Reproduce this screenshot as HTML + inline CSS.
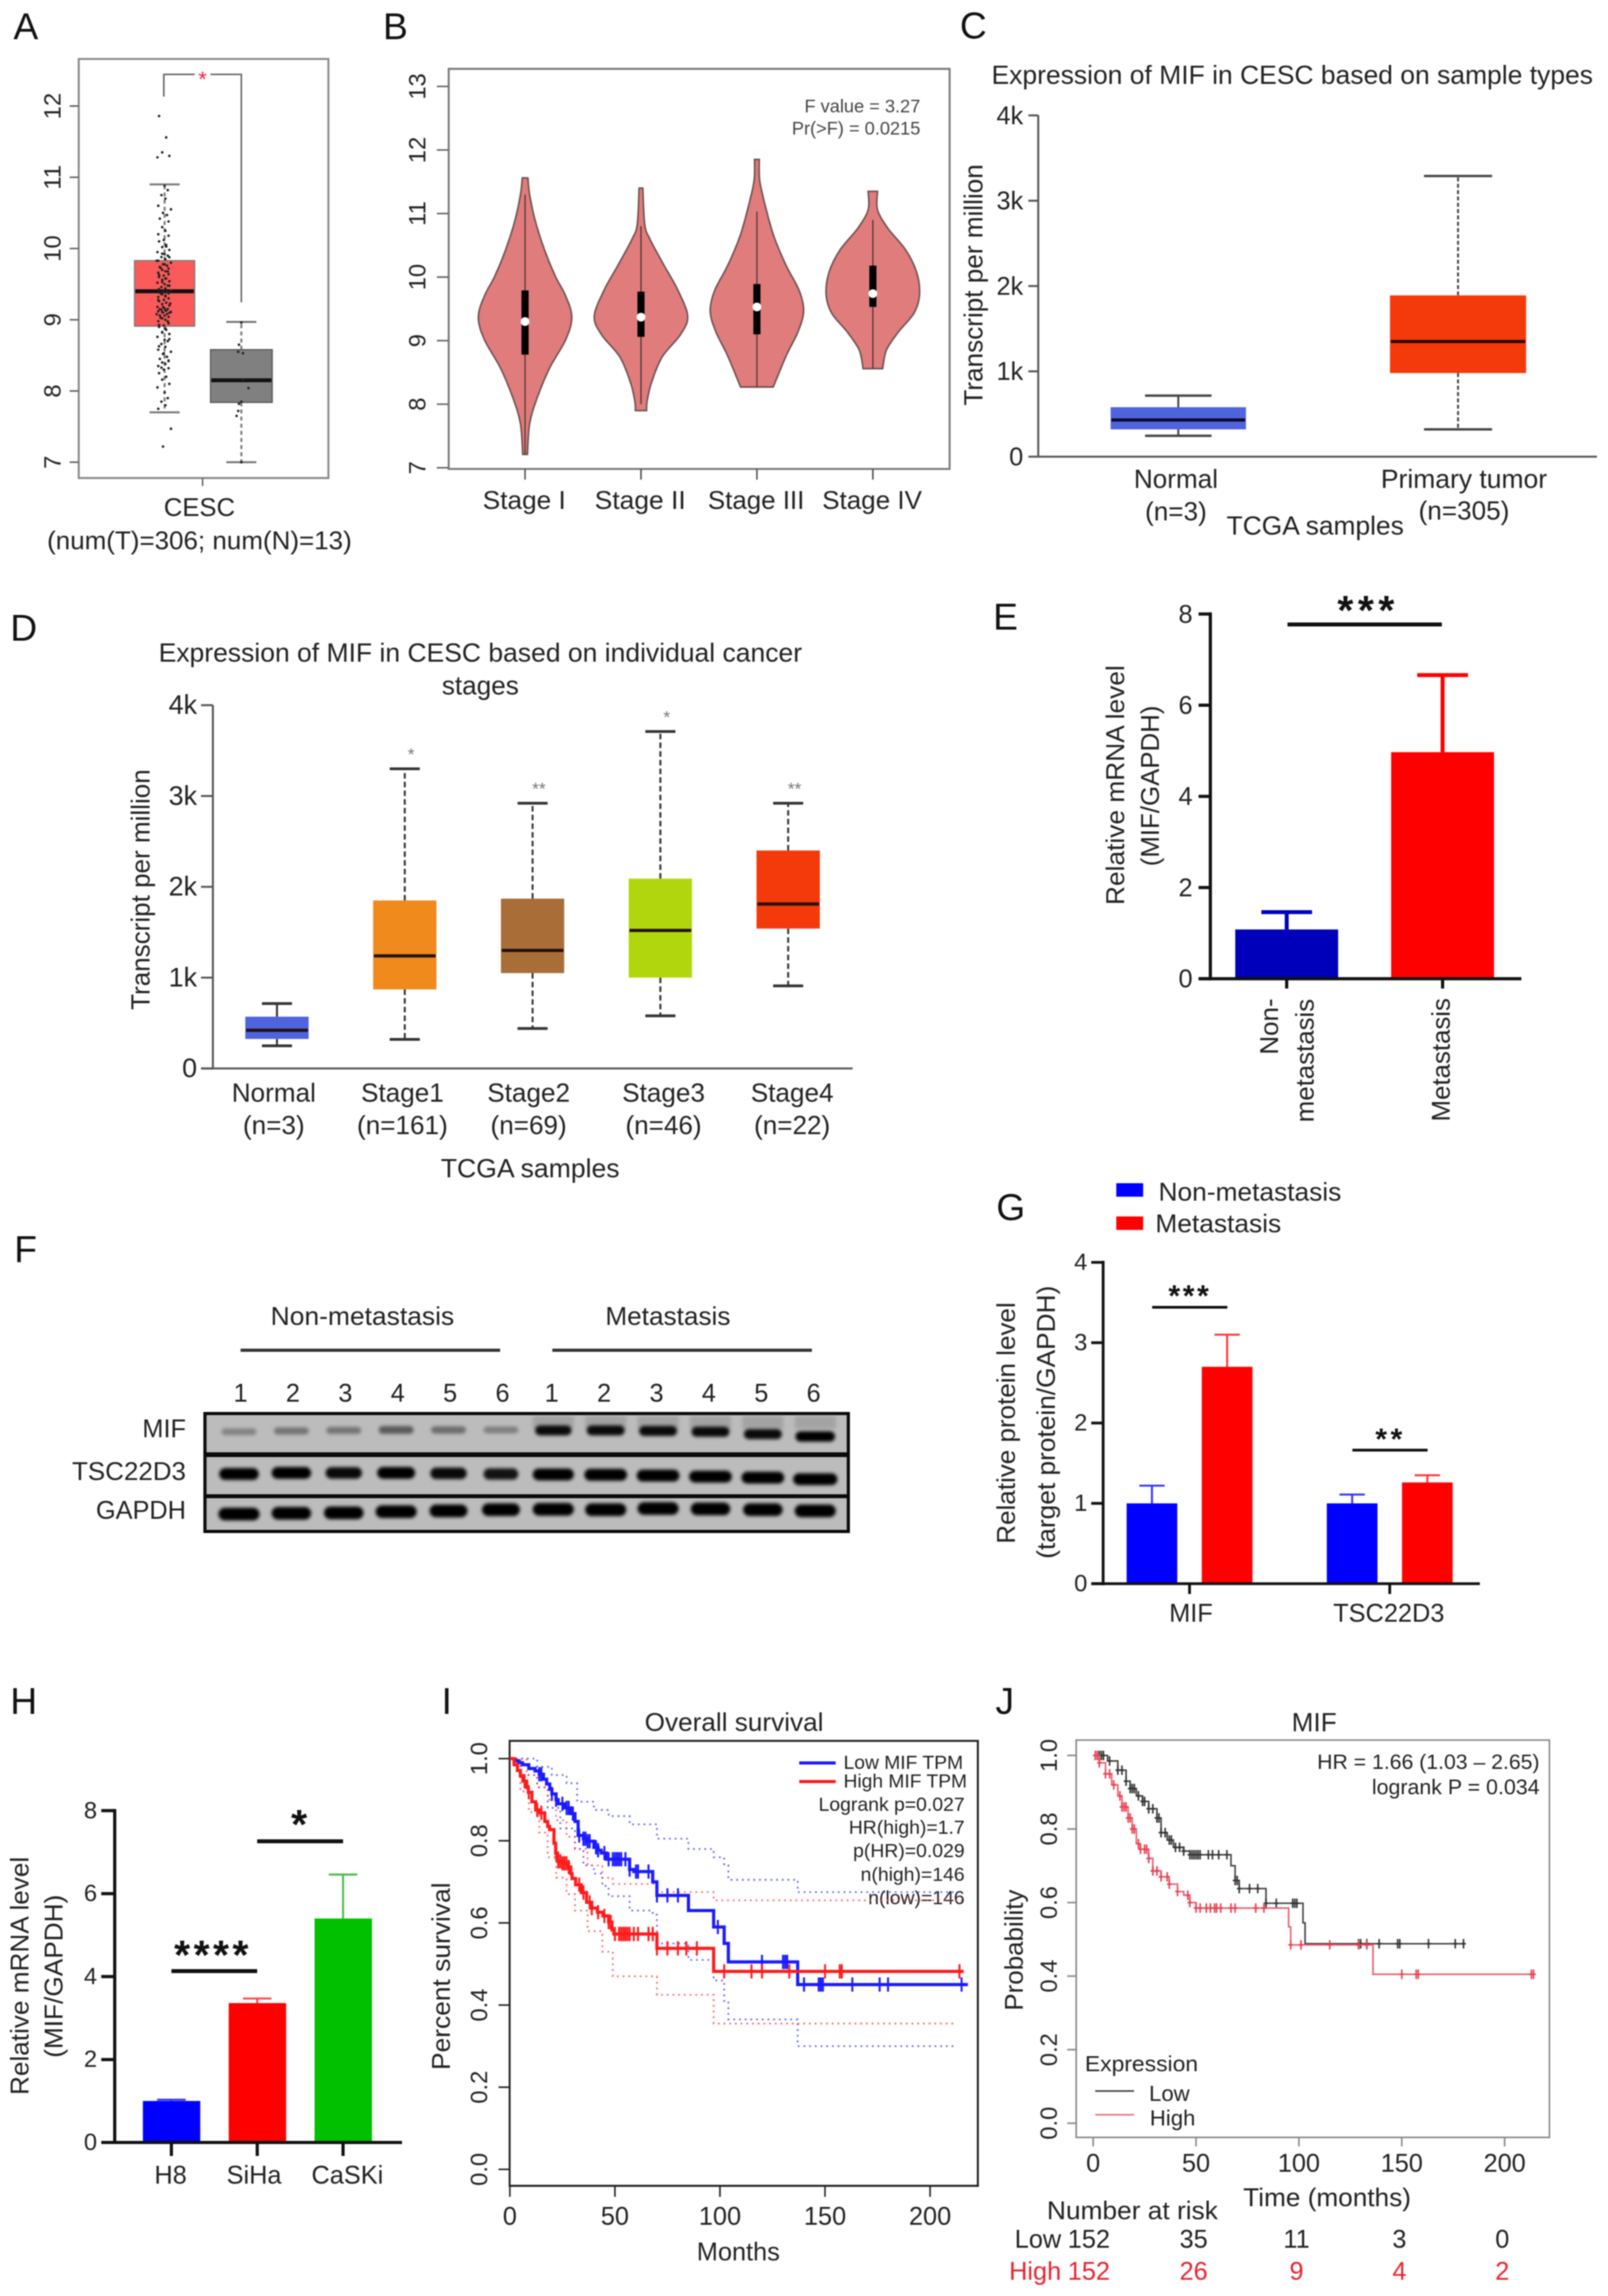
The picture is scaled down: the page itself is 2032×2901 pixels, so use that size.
<!DOCTYPE html>
<html lang="en">
<head>
<meta charset="utf-8">
<title>MIF expression in CESC - multi-panel figure</title>
<style>
html,body{margin:0;padding:0;background:#fff;}
#figure{display:block;filter:blur(0.8px);}
#figure text{font-family:"Liberation Sans",sans-serif;fill:#222;dominant-baseline:central;text-anchor:middle;}
#figure text.end{text-anchor:end;}
#figure text.start{text-anchor:start;}
#figure text.plabel{font-size:47px;fill:#111;text-anchor:start;}
#figure text.red{fill:#e8232f;}
#figure text.star{font-weight:bold;fill:#111;}
</style>
</head>
<body>
<svg id="figure" xmlns="http://www.w3.org/2000/svg" width="2032" height="2901" viewBox="0 0 2032 2901">
<defs>
<filter id="bandBlur" x="-30%" y="-100%" width="160%" height="300%"><feGaussianBlur stdDeviation="2.2"/></filter>
</defs>
<rect x="0" y="0" width="2032" height="2901" fill="#fff"/>

<g id="panel-a">
<text class="plabel" x="17" y="33">A</text>
<rect x="99.5" y="74.5" width="315.5" height="529.5" fill="none" stroke="#888" stroke-width="2.5"/>
<text x="252" y="641" font-size="32" textLength="90" lengthAdjust="spacingAndGlyphs">CESC</text>
<text x="252" y="683" font-size="32" textLength="385" lengthAdjust="spacingAndGlyphs">(num(T)=306; num(N)=13)</text>
<path d="M207 122V94H305V382" fill="none" stroke="#666" stroke-width="2"/>
<rect x="246" y="84" width="20" height="20" fill="#fff"/>
<text x="256" y="100" font-size="28" style="fill:#f0233c">*</text>
</g>

<g id="panel-b">
<text class="plabel" x="484" y="33">B</text>
<rect x="567" y="87" width="633" height="505.5" fill="none" stroke="#777" stroke-width="2.5"/>
<text class="end" x="1163" y="134" font-size="23" style="fill:#444">F value = 3.27</text>
<text class="end" x="1163" y="162" font-size="23" style="fill:#444">Pr(&gt;F) = 0.0215</text>
</g>

<g id="panel-c">
<text class="plabel" x="1213" y="32">C</text>
<text x="1633" y="94.5" font-size="33" textLength="760" lengthAdjust="spacingAndGlyphs">Expression of MIF in CESC based on sample types</text>
<text x="1230" y="360" font-size="33" textLength="305" lengthAdjust="spacingAndGlyphs" transform="rotate(-90 1230 360)">Transcript per million</text>
<text x="1486" y="605" font-size="33">Normal</text>
<text x="1486" y="646" font-size="33">(n=3)</text>
<text x="1850" y="605" font-size="33" textLength="210" lengthAdjust="spacingAndGlyphs">Primary tumor</text>
<text x="1850" y="645" font-size="33">(n=305)</text>
<text x="1662" y="664" font-size="33" textLength="224" lengthAdjust="spacingAndGlyphs">TCGA samples</text>
</g>

<g id="panel-d">
<text class="plabel" x="13" y="793">D</text>
<text x="607" y="824.5" font-size="33" textLength="813" lengthAdjust="spacingAndGlyphs">Expression of MIF in CESC based on individual cancer</text>
<text x="607" y="866" font-size="33">stages</text>
<text x="177.5" y="1124" font-size="33" textLength="304" lengthAdjust="spacingAndGlyphs" transform="rotate(-90 177.5 1124)">Transcript per million</text>
<text x="670" y="1476" font-size="33" textLength="226" lengthAdjust="spacingAndGlyphs">TCGA samples</text>
</g>

<g id="panel-e">
<text class="plabel" x="1255" y="779">E</text>
<text x="1409.5" y="992" font-size="32" textLength="303" lengthAdjust="spacingAndGlyphs" transform="rotate(-90 1409.5 992)">Relative mRNA level</text>
<text x="1453.6" y="993" font-size="32" textLength="203" lengthAdjust="spacingAndGlyphs" transform="rotate(-90 1453.6 993)">(MIF/GAPDH)</text>
<text x="1604" y="1297" font-size="32" textLength="71" lengthAdjust="spacingAndGlyphs" transform="rotate(-90 1604 1297)">Non-</text>
<text x="1649" y="1340" font-size="32" textLength="156" lengthAdjust="spacingAndGlyphs" transform="rotate(-90 1649 1340)">metastasis</text>
<text x="1821" y="1339" font-size="32" textLength="156" lengthAdjust="spacingAndGlyphs" transform="rotate(-90 1821 1339)">Metastasis</text>
<rect x="1627" y="786.5" width="195" height="5" fill="#111"/>
<text class="star" x="1726" y="772" font-size="52" textLength="72">***</text>
</g>

<g id="panel-f">
<text class="plabel" x="18" y="1578">F</text>
<text x="458" y="1663" font-size="32" textLength="232" lengthAdjust="spacingAndGlyphs">Non-metastasis</text>
<text x="844" y="1663" font-size="32" textLength="158" lengthAdjust="spacingAndGlyphs">Metastasis</text>
<rect x="304" y="1704" width="328" height="4" fill="#333"/>
<rect x="698" y="1704" width="328" height="4" fill="#333"/>
<text class="end" x="235" y="1805" font-size="32">MIF</text>
<text class="end" x="235" y="1859" font-size="32" textLength="144" lengthAdjust="spacingAndGlyphs">TSC22D3</text>
<text class="end" x="235" y="1908" font-size="32">GAPDH</text>
<rect x="257" y="1784" width="817" height="153" fill="#0a0a0a"/>
<rect x="261" y="1788" width="809" height="47" fill="#bcbcbc"/>
<rect x="261" y="1841" width="809" height="47" fill="#bcbcbc"/>
<rect x="261" y="1893" width="809" height="40" fill="#bcbcbc"/>
</g>

<g id="panel-g">
<text class="plabel" x="1259" y="1525">G</text>
<rect x="1410.6" y="1495" width="34" height="17" fill="#0000ff"/>
<text class="start" x="1464" y="1506" font-size="32" textLength="231" lengthAdjust="spacingAndGlyphs">Non-metastasis</text>
<rect x="1410.6" y="1537" width="34" height="17" fill="#ff0000"/>
<text class="start" x="1460" y="1546" font-size="32" textLength="159" lengthAdjust="spacingAndGlyphs">Metastasis</text>
<text x="1271.6" y="1798" font-size="32" textLength="305" lengthAdjust="spacingAndGlyphs" transform="rotate(-90 1271.6 1798)">Relative protein level</text>
<text x="1322" y="1797" font-size="32" textLength="345" lengthAdjust="spacingAndGlyphs" transform="rotate(-90 1322 1797)">(target protein/GAPDH)</text>
<text x="1505" y="2038" font-size="32">MIF</text>
<text x="1755" y="2038" font-size="32">TSC22D3</text>
<rect x="1456" y="1650" width="95" height="3.5" fill="#111"/>
<text class="star" x="1502" y="1638" font-size="38" textLength="51">***</text>
<rect x="1709" y="1830.5" width="95" height="3.5" fill="#111"/>
<text class="star" x="1755" y="1819" font-size="38" textLength="34">**</text>
</g>

<g id="panel-h">
<text class="plabel" x="13" y="2149">H</text>
<text x="25" y="2496.5" font-size="32" textLength="301" lengthAdjust="spacingAndGlyphs" transform="rotate(-90 25 2496.5)">Relative mRNA level</text>
<text x="68" y="2497" font-size="32" textLength="206" lengthAdjust="spacingAndGlyphs" transform="rotate(-90 68 2497)">(MIF/GAPDH)</text>
<rect x="216.6" y="2488" width="108.4" height="5" fill="#111"/>
<text class="star" x="267" y="2471" font-size="52" textLength="94">****</text>
<rect x="325" y="2324" width="108.5" height="5" fill="#111"/>
<text class="star" x="378" y="2306" font-size="52">*</text>
</g>

<g id="panel-i">
<text class="plabel" x="558" y="2149">I</text>
<text x="927.6" y="2176" font-size="32" textLength="226" lengthAdjust="spacingAndGlyphs">Overall survival</text>
<rect x="644" y="2199.6" width="591.7" height="562.2" fill="none" stroke="#222" stroke-width="2.5"/>
<text x="557.5" y="2497" font-size="32" textLength="237" lengthAdjust="spacingAndGlyphs" transform="rotate(-90 557.5 2497)">Percent survival</text>
<text x="933" y="2845" font-size="32">Months</text>
<rect x="1010" y="2225.5" width="46" height="4" fill="#1a1aff"/>
<text class="start" x="1066" y="2227.5" font-size="24" textLength="151" lengthAdjust="spacingAndGlyphs">Low MIF TPM</text>
<rect x="1010" y="2249" width="46" height="4" fill="#ff1a1a"/>
<text class="start" x="1066" y="2251" font-size="24" textLength="156" lengthAdjust="spacingAndGlyphs">High MIF TPM</text>
<text class="end" x="1219" y="2280.7" font-size="24.5">Logrank p=0.027</text>
<text class="end" x="1219" y="2309.6" font-size="24.5">HR(high)=1.7</text>
<text class="end" x="1219" y="2339" font-size="24.5">p(HR)=0.029</text>
<text class="end" x="1219" y="2369" font-size="24.5">n(high)=146</text>
<text class="end" x="1219" y="2398.6" font-size="24.5">n(low)=146</text>
</g>

<g id="panel-j">
<text class="plabel" x="1258" y="2149">J</text>
<text x="1660.7" y="2176" font-size="33">MIF</text>
<rect x="1360" y="2198.6" width="598" height="502" fill="none" stroke="#888" stroke-width="2"/>
<text x="1281.4" y="2464" font-size="32" textLength="153" lengthAdjust="spacingAndGlyphs" transform="rotate(-90 1281.4 2464)">Probability</text>
<text x="1677" y="2776.7" font-size="32" textLength="212" lengthAdjust="spacingAndGlyphs">Time (months)</text>
<text class="end" x="1945.5" y="2226" font-size="26" textLength="281" lengthAdjust="spacingAndGlyphs">HR = 1.66 (1.03 – 2.65)</text>
<text class="end" x="1945.5" y="2258" font-size="27">logrank P = 0.034</text>
<text class="start" x="1371" y="2607.6" font-size="28" textLength="143" lengthAdjust="spacingAndGlyphs">Expression</text>
<rect x="1384" y="2641" width="49" height="2" fill="#444"/>
<text class="start" x="1452" y="2645" font-size="28">Low</text>
<rect x="1384" y="2671" width="49" height="2" fill="#e8707f"/>
<text class="start" x="1453" y="2676" font-size="28">High</text>
<text x="1431" y="2793" font-size="32" textLength="216" lengthAdjust="spacingAndGlyphs">Number at risk</text>
<text class="end" x="1341" y="2829" font-size="32">Low</text>
<text class="end red" x="1341" y="2869.7" font-size="32">High</text>
</g>
</svg>

<script>
/* ---------- Panel A: box + jitter ---------- */
const aTicks = [7, 8, 9, 10, 11, 12];
const aTumorBox = { low: 7.7, q1: 8.91, med: 9.4, q3: 9.83, high: 10.9 };
const aNormalBox = { low: 7.0, q1: 7.84, med: 8.15, q3: 8.58, high: 8.97 };
const aTumorPoints = [11.86,11.56,11.35,11.3,11.28,10.88,10.82,10.75,10.7,10.6,10.55,10.5,10.47,10.42,10.38,10.3,10.25,10.2,10.18,10.12,10.1,10.05,10.02,9.98,9.95,9.92,9.9,9.88,9.85,9.83,9.8,9.78,9.76,9.74,9.72,9.7,9.68,9.66,9.64,9.62,9.6,9.58,9.56,9.54,9.52,9.5,9.48,9.46,9.44,9.42,9.41,9.4,9.39,9.38,9.37,9.36,9.34,9.32,9.3,9.28,9.26,9.24,9.22,9.2,9.18,9.16,9.15,9.14,9.13,9.12,9.11,9.1,9.08,9.06,9.04,9.02,9.0,8.98,8.95,8.92,8.9,8.86,8.82,8.8,8.76,8.72,8.7,8.66,8.62,8.58,8.55,8.52,8.48,8.45,8.42,8.4,8.38,8.35,8.32,8.3,8.25,8.2,8.16,8.1,8.05,7.98,7.9,7.85,7.8,7.75,7.47,7.22];
const aTumorDense = [10.05,9.95,9.9,9.85,9.8,9.75,9.7,9.65,9.6,9.55,9.5,9.45,9.42,9.4,9.38,9.35,9.3,9.25,9.2,9.17,9.15,9.13,9.12,9.1,9.08,9.05,9.0,8.95,8.9,8.85,8.75,8.65,8.55,8.45,8.35];
const aNormalPoints = [8.96,8.65,8.55,8.53,8.16,8.04,7.85,7.82,7.72,7.65,7.0];
const aJitter = [-6,3,-2,7,-8,1,5,-3,2,-7,9,-1,4,-5,6,-2,2,-7,6,0];
const aNormalJitter = [0,-3,-4,2,2,9,0,-3,-4,-6,0];

/* ---------- Panel B: violins ---------- */
const bTicks = [7, 8, 9, 10, 11, 12, 13];
const bStages = ['Stage I', 'Stage II', 'Stage III', 'Stage IV'];
const bStageLabelWidths = [105, 115, 122, 126];
const bV1Values = [11.56,11.29,10.88,10.42,10.01,9.72,9.38,9.03,8.56,8.1,7.7,7.21];
const bV1Density = [0.06,0.1,0.22,0.42,0.65,0.86,1,0.88,0.52,0.26,0.1,0.05];
const bV2Values = [11.4,10.83,10.6,10.19,9.78,9.38,9.09,8.74,8.33,8.04,7.9];
const bV2Density = [0.04,0.08,0.19,0.49,0.8,1,0.84,0.45,0.22,0.13,0.12];
const bV3Values = [11.85,11.52,11.12,10.65,10.19,9.78,9.46,9.14,8.8,8.45,8.27];
const bV3Density = [0.05,0.06,0.18,0.36,0.62,0.91,1,0.88,0.65,0.45,0.35];
const bV4Values = [11.35,11.06,10.77,10.42,10.07,9.72,9.43,9.14,8.85,8.56];
const bV4Density = [0.1,0.1,0.32,0.71,0.94,1,0.88,0.55,0.29,0.21];
const bQ1 = [8.78, 9.06, 9.1, 9.53];
const bQ3 = [9.79, 9.77, 9.89, 10.18];
const bMedian = [9.3, 9.37, 9.53, 9.74];
const bWhiskLow = [7.21, 8.0, 8.27, 8.56];
const bWhiskHigh = [11.3, 10.8, 11.03, 10.9];

/* ---------- Panel C ---------- */
const cTickValues = [0, 1, 2, 3, 4];
const cTickLabels = ['0', '1k', '2k', '3k', '4k'];
const cNormal = { low: 0.245, q1: 0.32, med: 0.43, q3: 0.58, high: 0.715 };
const cTumor = { low: 0.32, q1: 0.98, med: 1.35, q3: 1.89, high: 3.29 };

/* ---------- Panel D ---------- */
const dTickValues = [0, 1, 2, 3, 4];
const dTickLabels = ['0', '1k', '2k', '3k', '4k'];
const dCategories = ['Normal', 'Stage1', 'Stage2', 'Stage3', 'Stage4'];
const dCounts = ['(n=3)', '(n=161)', '(n=69)', '(n=46)', '(n=22)'];
const dLow = [0.25, 0.32, 0.44, 0.58, 0.91];
const dQ1 = [0.325, 0.87, 1.05, 1.0, 1.54];
const dMedian = [0.42, 1.24, 1.3, 1.52, 1.81];
const dQ3 = [0.57, 1.85, 1.87, 2.09, 2.4];
const dHigh = [0.715, 3.3, 2.92, 3.71, 2.92];
const dColors = ['#4f63dd', '#f08a1d', '#a96e38', '#b2d60e', '#f4390b'];
const dStars = ['', '*', '**', '*', '**'];

/* ---------- Panel E ---------- */
const eTicks = [0, 2, 4, 6, 8];
const eMeans = [1.08, 4.97];
const eUpper = [1.46, 6.66];

/* ---------- Panel F: western blot ---------- */
const fLaneLabels = ['1','2','3','4','5','6','1','2','3','4','5','6'];
const fMifIntensity = [0.3,0.38,0.38,0.52,0.42,0.32,0.95,0.95,0.95,0.95,0.95,1];
const fMifDrift = [1,0,-0.7,-1.3,-1.3,-1.3,-0.7,-0.7,0,1,4,7];
const fMifWidth = [22,22,22,22,22,22,23,24,24,24,24,25];
const fTscIntensity = [1,1,0.95,1,0.95,0.9,1,1,1,1,1,1];
const fTscDrift = [0.4,-1,-1,-1,-0.4,0.4,1,1.4,2.4,3.7,5,7];
const fTscWidth = [25,25,23,24,23,22,26,27,27,27,27,28];
const fGapIntensity = [1,1,1,1,1,1,1,1,1,1,1,1];
const fGapDrift = [5,4,3.5,2,1,-0.5,-1,-0.5,-2,-1.5,-0.5,1];
const fGapWidth = [26,25,25,26,24,24,26,26,26,25,25,26];

/* ---------- Panel G ---------- */
const gTicks = [0, 1, 2, 3, 4];
const gMeans = [[1.0, 2.7], [1.0, 1.26]];
const gUpper = [[1.22, 3.1], [1.11, 1.35]];

/* ---------- Panel H ---------- */
const hTicks = [0, 2, 4, 6, 8];
const hCategories = ['H8', 'SiHa', 'CaSKi'];
const hMeans = [1.0, 3.36, 5.4];
const hUpper = [1.03, 3.47, 6.46];
const hColors = ['#0000ff', '#ff0000', '#00c000'];
const hErrColors = ['#3333ff', '#ff4444', '#44bb44'];

/* ---------- Panel I: survival ---------- */
const iYTicks = ['0.0', '0.2', '0.4', '0.6', '0.8', '1.0'];
const iXTicks = [0, 50, 100, 150, 200];
const iLowT = [0,2,4,6,9,12,14,16,17.5,19,20,22,23,26,29,31,32.5,35,37,40,42,43.5,46,57,59,68,70,85,97,102,104,137];
const iLowS = [1,0.995,0.99,0.985,0.976,0.97,0.962,0.95,0.938,0.925,0.914,0.9,0.89,0.88,0.866,0.847,0.813,0.805,0.799,0.784,0.777,0.77,0.755,0.73,0.725,0.7,0.667,0.63,0.59,0.55,0.505,0.45];
const iLowEnd = 218;
const iHighT = [0,2,3.6,5,6.2,8,8.8,10.5,12.3,14,16.6,18,18.9,21,21.8,22.7,25,27.9,29,29.6,31.3,34,36.5,39,41.7,44.3,47,48.6,49.5,70,97];
const iHighS = [1,0.985,0.971,0.958,0.945,0.93,0.918,0.895,0.875,0.868,0.847,0.835,0.827,0.794,0.77,0.75,0.745,0.736,0.72,0.708,0.693,0.674,0.65,0.636,0.626,0.617,0.602,0.583,0.573,0.538,0.482];
const iHighEnd = 216;
const iLowCensor = [14,15,20,22,25,27,28,30,33,35,36,37,38,41,42,45,47,49,50,51,52,53,55,57,60,61,66,70,75,80,99,120,130,131,132,140,147,148,149,163,176,180,215];
const iHighCensor = [7,9,13,15,22,23,24,25,26,27,28,33,35,38,39,42,45,47,48,50,52,53,54,55,56,57,59,61,66,68,70,75,80,84,89,102,115,120,133,150,157,158,214];
const iLowUpT = [0,9,13,20,27,32,40,47,57,68,70,85,97,102,104,137];
const iLowUpS = [1,1,0.98,0.96,0.94,0.895,0.875,0.86,0.84,0.84,0.805,0.78,0.76,0.74,0.705,0.675];
const iLowUpEnd = 215;
const iLowDnT = [0,5,13,18,24,31,35,40,44,47,57,68,70,85,97,102,104,137];
const iLowDnS = [1,0.96,0.93,0.88,0.83,0.78,0.74,0.72,0.69,0.665,0.63,0.62,0.55,0.51,0.46,0.41,0.365,0.3];
const iLowDnEnd = 213;
const iHighUpT = [0,8,13,18,22,27,31,37,44,49,70,97];
const iHighUpS = [1,0.96,0.93,0.9,0.85,0.81,0.78,0.74,0.71,0.695,0.675,0.655];
const iHighUpEnd = 215;
const iHighDnT = [0,5,9,14,18,22,27,31,37,44,49,70,97];
const iHighDnS = [1,0.92,0.87,0.82,0.76,0.71,0.67,0.63,0.58,0.53,0.47,0.425,0.355];
const iHighDnEnd = 212;

/* ---------- Panel J: survival ---------- */
const jYTicks = ['0.0', '0.2', '0.4', '0.6', '0.8', '1.0'];
const jXTicks = [0, 50, 100, 150, 200];
const jLowT = [0,7,12,16,18,21,24,27,31,33,36,39,44,47,67,69,71,84,102,103];
const jLowS = [1,0.985,0.96,0.93,0.91,0.89,0.875,0.855,0.83,0.79,0.77,0.75,0.74,0.73,0.7,0.66,0.638,0.598,0.545,0.488];
const jLowEnd = 181;
const jHighT = [0,3,6,9,12,14,17,19,21,23,27,29,33,37,41,44,47,50,95,96,136];
const jHighS = [1,0.98,0.95,0.92,0.89,0.86,0.83,0.8,0.76,0.745,0.72,0.686,0.67,0.65,0.63,0.62,0.6,0.585,0.534,0.485,0.405];
const jHighEnd = 215;
const jLowCensor = [2,3,4,5,8,12,14,16,18,19,20,22,24,25,27,29,31,32,33,35,37,38,40,42,44,47,48,49,50,51,52,56,58,61,65,69,70,71,76,80,84,89,97,98,99,129,130,133,139,148,149,163,176,180];
const jHighCensor = [1,2,3,6,8,10,13,14,15,16,17,18,19,20,22,23,25,26,27,29,31,33,36,37,41,46,47,50,52,55,57,59,60,62,67,69,79,83,96,101,115,129,133,150,157,158,213,214];
const jRiskTimes = [0, 50, 100, 150, 200];
const jRiskLow = ['152', '35', '11', '3', '0'];
const jRiskHigh = ['152', '26', '9', '4', '2'];

/* ---------- helpers ---------- */
const NS = 'http://www.w3.org/2000/svg';
function mk(parent, tag, attrs, name) {
  const el = document.createElementNS(NS, tag);
  for (const k in attrs) el.setAttribute(k, attrs[k]);
  
  
  parent.appendChild(el);
  return el;
}
function ln(p, x1, y1, x2, y2, stroke, w, name, dash) {
  const a = { x1: x1, y1: y1, x2: x2, y2: y2, stroke: stroke, 'stroke-width': w };
  if (dash) a['stroke-dasharray'] = dash;
  return mk(p, 'line', a, name);
}
function rc(p, x, y, w, h, fill, name) {
  return mk(p, 'rect', { x: x, y: y, width: w, height: h, fill: fill }, name);
}
function tx(p, x, y, s, size, name, opts) {
  opts = opts || {};
  const a = { x: x, y: y, 'font-size': size };
  if (opts.rot) a.transform = 'rotate(-90 ' + x + ' ' + y + ')';
  if (opts.cls) a['class'] = opts.cls;
  if (opts.style) a.style = opts.style;
  if (opts.len) { a.textLength = opts.len; a.lengthAdjust = 'spacingAndGlyphs'; }
  const el = mk(p, 'text', a, name);
  el.textContent = s;
  return el;
}
function panel(id) { return document.getElementById(id); }

function drawBox(p, xc, s, color, yf, hw, capW, name, whiskColor, dash, medColor, medW, capWidth) {
  ln(p, xc, yf(s.q3), xc, yf(s.high), whiskColor, 2.5, name + '-whisker-high', dash);
  ln(p, xc, yf(s.q1), xc, yf(s.low), whiskColor, 2.5, name + '-whisker-low', dash);
  ln(p, xc - capW, yf(s.high), xc + capW, yf(s.high), whiskColor, capWidth, name + '-cap-high');
  ln(p, xc - capW, yf(s.low), xc + capW, yf(s.low), whiskColor, capWidth, name + '-cap-low');
  rc(p, xc - hw, yf(s.q3), hw * 2, yf(s.q1) - yf(s.q3), color, name + '-box');
  ln(p, xc - hw + 1, yf(s.med), xc + hw - 1, yf(s.med), medColor, medW, name + '-median');
}
function stepValue(ts, ss, t) {
  let v = ss[0];
  for (let i = 0; i < ts.length; i++) { if (ts[i] <= t) v = ss[i]; }
  return v;
}
function stepPath(ts, ss, end, xf, yf) {
  let d = 'M' + xf(ts[0]) + ' ' + yf(ss[0]);
  for (let i = 1; i < ts.length; i++) {
    d += 'H' + xf(ts[i]) + 'V' + yf(ss[i]);
  }
  return d + 'H' + xf(end);
}
function smooth(pts) {
  let d = '';
  for (let i = 0; i < pts.length - 1; i++) {
    const p0 = pts[Math.max(i - 1, 0)], p1 = pts[i], p2 = pts[i + 1], p3 = pts[Math.min(i + 2, pts.length - 1)];
    const c1x = p1[0] + (p2[0] - p0[0]) / 6, c1y = p1[1] + (p2[1] - p0[1]) / 6;
    const c2x = p2[0] - (p3[0] - p1[0]) / 6, c2y = p2[1] - (p3[1] - p1[1]) / 6;
    d += 'C' + c1x.toFixed(1) + ' ' + c1y.toFixed(1) + ' ' + c2x.toFixed(1) + ' ' + c2y.toFixed(1) + ' ' + p2[0].toFixed(1) + ' ' + p2[1].toFixed(1);
  }
  return d;
}

/* ---------- draw A ---------- */
(function () {
  const g = panel('panel-a');
  const y = function (v) { return 584 - (v - 7) * 90; };
  aTicks.forEach(function (t) {
    ln(g, 88, y(t), 99.5, y(t), '#666', 2, 'y-tick-a-' + t);
    tx(g, 67, y(t), String(t), 30, 'y-tick-label-a-' + t, { rot: true });
  });
  ln(g, 256, 604, 256, 614, '#666', 2, 'x-tick-cesc');
  drawBox(g, 208, aTumorBox, '#fb5a5a', y, 38, 19, 'tumor-box', '#777', '5 4', '#111', 5, 2.5);
  drawBox(g, 305, aNormalBox, '#808080', y, 39, 19, 'normal-box', '#777', '5 4', '#111', 5, 2.5);
  mk(g, 'rect', { x: 170, y: y(aTumorBox.q3), width: 76, height: y(aTumorBox.q1) - y(aTumorBox.q3), fill: 'none', stroke: '#777', 'stroke-width': 1.5 }, 'tumor-box-outline');
  mk(g, 'rect', { x: 266, y: y(aNormalBox.q3), width: 78, height: y(aNormalBox.q1) - y(aNormalBox.q3), fill: 'none', stroke: '#555', 'stroke-width': 1.5 }, 'normal-box-outline');
  aTumorPoints.forEach(function (v, i) {
    mk(g, 'circle', { cx: 207 + aJitter[i % aJitter.length], cy: y(v), r: 1.6, fill: '#222' }, 'tumor-point');
  });
  aTumorDense.forEach(function (v, i) {
    mk(g, 'circle', { cx: 207 - aJitter[(i + 7) % aJitter.length], cy: y(v) + 2, r: 1.6, fill: '#222' }, 'tumor-point-dense');
  });
  aNormalPoints.forEach(function (v, i) {
    mk(g, 'circle', { cx: 305 + aNormalJitter[i], cy: y(v), r: 1.6, fill: '#222' }, 'normal-point');
  });
})();

/* ---------- draw B ---------- */
(function () {
  const g = panel('panel-b');
  const y = function (v) { return 591 - (v - 7) * 80.3; };
  const x = function (i) { return 663.5 + i * 146.5; };
  const maxHalf = 59;
  bTicks.forEach(function (t) {
    ln(g, 552, y(t), 567, y(t), '#666', 2, 'y-tick-b-' + t);
    tx(g, 528, y(t), String(t), 30, 'y-tick-label-b-' + t, { rot: true });
  });
  const valuesAll = [bV1Values, bV2Values, bV3Values, bV4Values];
  const densAll = [bV1Density, bV2Density, bV3Density, bV4Density];
  bStages.forEach(function (s, i) {
    const xc = x(i);
    ln(g, xc, 592.5, xc, 606, '#555', 2, 'x-tick-stage-' + (i + 1));
    tx(g, xc - 1, 632, s, 32, 'x-label-stage-' + (i + 1), { len: bStageLabelWidths[i] });
    const right = valuesAll[i].map(function (v, k) { return [xc + densAll[i][k] * maxHalf, y(v)]; });
    const left = right.slice().reverse().map(function (pt) { return [2 * xc - pt[0], pt[1]]; });
    const d = 'M' + right[0][0] + ' ' + right[0][1] + smooth(right) + 'L' + left[0][0] + ' ' + left[0][1] + smooth(left) + 'Z';
    mk(g, 'path', { d: d, fill: '#e07c7c', stroke: '#6e5050', 'stroke-width': 2 }, 'violin-stage-' + (i + 1));
    ln(g, xc, y(bWhiskLow[i]), xc, y(bWhiskHigh[i]), '#4a3030', 1.5, 'violin-whisker-stage-' + (i + 1));
    rc(g, xc - 4.5, y(bQ3[i]), 9, y(bQ1[i]) - y(bQ3[i]), '#000', 'violin-iqr-stage-' + (i + 1));
    mk(g, 'circle', { cx: xc, cy: y(bMedian[i]), r: 5.5, fill: '#fff' }, 'violin-median-stage-' + (i + 1));
  });
})();

/* ---------- draw C ---------- */
(function () {
  const g = panel('panel-c');
  const y = function (v) { return 577 - v * 107.8; };
  ln(g, 1312, y(4), 1312, y(0), '#555', 2.5, 'y-axis-c');
  ln(g, 1312, y(0), 2018, y(0), '#555', 2.5, 'x-axis-c');
  cTickValues.forEach(function (t, i) {
    ln(g, 1299.5, y(t), 1312, y(t), '#555', 2.5, 'y-tick-c-' + t);
    tx(g, 1293, y(t), cTickLabels[i], 32, 'y-tick-label-c-' + t, { cls: 'end' });
  });
  drawBox(g, 1489, cNormal, '#4f63dd', y, 85.5, 42, 'normal-box-c', '#444', null, '#0a0a28', 4, 3);
  drawBox(g, 1842.5, cTumor, '#f4390b', y, 86, 43, 'primary-tumor-box', '#444', '5 3', '#2a0a00', 4, 3);
})();

/* ---------- draw D ---------- */
(function () {
  const g = panel('panel-d');
  const y = function (v) { return 1350 - v * 114.75; };
  const x = function (i) { return 350 + i * 161.5; };
  const labelShift = [-4, -3, -5, 4, 5];
  ln(g, 269, y(4), 269, y(0), '#555', 2.5, 'y-axis-d');
  ln(g, 254, y(0), 1077.5, y(0), '#555', 2.5, 'x-axis-d');
  dTickValues.forEach(function (t, i) {
    ln(g, 254, y(t), 269, y(t), '#555', 2.5, 'y-tick-d-' + t);
    tx(g, 249, y(t), dTickLabels[i], 34, 'y-tick-label-d-' + t, { cls: 'end' });
  });
  dCategories.forEach(function (c, i) {
    const s = { low: dLow[i], q1: dQ1[i], med: dMedian[i], q3: dQ3[i], high: dHigh[i] };
    drawBox(g, x(i), s, dColors[i], y, 40, 19, 'box-' + c.toLowerCase(), '#333', i ? '7 4' : null, '#201008', 4, 3.5);
    tx(g, x(i) + labelShift[i], 1380.5, c, 33, 'x-label-' + c.toLowerCase());
    tx(g, x(i) + labelShift[i], 1421.6, dCounts[i], 33, 'x-count-' + c.toLowerCase());
    if (dStars[i]) {
      tx(g, x(i) + 8, y(dHigh[i]) - 18, dStars[i], 22, 'significance-' + c.toLowerCase(), { style: 'fill:#777' });
    }
  });
})();

/* ---------- draw E ---------- */
(function () {
  const g = panel('panel-e');
  const y = function (v) { return 1236.6 - v * 57.6; };
  const x = function (i) { return 1626 + i * 197; };
  const colors = ['#0000bb', '#ff0000'];
  const names = ['non-metastasis', 'metastasis'];
  eMeans.forEach(function (m, i) {
    ln(g, x(i), y(m), x(i), y(eUpper[i]), colors[i], 5, 'error-bar-' + names[i]);
    ln(g, x(i) - 32, y(eUpper[i]), x(i) + 32, y(eUpper[i]), colors[i], 5, 'error-cap-' + names[i]);
    rc(g, x(i) - 65, y(m), 130, y(0) - y(m), colors[i], 'bar-' + names[i]);
    ln(g, x(i), y(0), x(i), 1249, '#111', 4, 'x-tick-' + names[i]);
  });
  ln(g, 1529.5, y(8) - 2, 1529.5, y(0) + 2, '#111', 4, 'y-axis-e');
  ln(g, 1514.6, y(0), 1922.5, y(0), '#111', 4, 'x-axis-e');
  eTicks.forEach(function (t) {
    ln(g, 1514.6, y(t), 1529.5, y(t), '#111', 4, 'y-tick-e-' + t);
    tx(g, 1507, y(t), String(t), 32, 'y-tick-label-e-' + t, { cls: 'end' });
  });
})();

/* ---------- draw F ---------- */
(function () {
  const g = panel('panel-f');
  const lane = function (i) { return 302 + i * 66.2; };
  fLaneLabels.forEach(function (l, i) {
    tx(g, lane(i) + (i < 6 ? 2 : -2), 1760, l, 32, 'lane-number-' + (i + 1));
    if (i >= 6) {
      mk(g, 'rect', { x: lane(i) - 26, y: 1789, width: 52, height: 16, fill: '#777', opacity: 0.35, filter: 'url(#bandBlur)' }, 'mif-smear-' + (i + 1));
    }
  });
  function strip(intensity, drift, width, base, hh, name) {
    intensity.forEach(function (v, i) {
      const h = hh * (0.5 + 0.5 * v);
      mk(g, 'rect', { x: lane(i) - width[i], y: base + drift[i] - h, width: width[i] * 2, height: h * 2, rx: h, fill: '#000', opacity: v, filter: 'url(#bandBlur)' }, name + '-band-' + (i + 1));
    });
  }
  strip(fMifIntensity, fMifDrift, fMifWidth, 1808, 6.5, 'mif');
  strip(fTscIntensity, fTscDrift, fTscWidth, 1862, 7.5, 'tsc22d3');
  strip(fGapIntensity, fGapDrift, fGapWidth, 1908, 8, 'gapdh');
})();

/* ---------- draw G ---------- */
(function () {
  const g = panel('panel-g');
  const y = function (v) { return 2001 - v * 101.5; };
  const x = function (grp, s) { return 1455.7 + grp * 253 + s * 95; };
  const colors = ['#0000ff', '#ff0000'];
  const errColors = ['#3333ff', '#ff3333'];
  const grpNames = ['mif', 'tsc22d3'];
  const serNames = ['non-metastasis', 'metastasis'];
  gMeans.forEach(function (arr, gi) {
    arr.forEach(function (m, si) {
      const xc = x(gi, si);
      const n = grpNames[gi] + '-' + serNames[si];
      ln(g, xc, y(m), xc, y(gUpper[gi][si]), errColors[si], 2.5, 'error-bar-' + n);
      ln(g, xc - 16, y(gUpper[gi][si]), xc + 16, y(gUpper[gi][si]), errColors[si], 2.5, 'error-cap-' + n);
      rc(g, xc - 32, y(m), 64, y(0) - y(m), colors[si], 'bar-' + n);
    });
    ln(g, (x(gi, 0) + x(gi, 1)) / 2, y(0), (x(gi, 0) + x(gi, 1)) / 2, 2014, '#111', 3.5, 'x-tick-' + grpNames[gi]);
  });
  ln(g, 1394, y(4) - 2, 1394, y(0) + 2, '#111', 3.5, 'y-axis-g');
  ln(g, 1379, y(0), 1870, y(0), '#111', 3.5, 'x-axis-g');
  gTicks.forEach(function (t) {
    ln(g, 1379, y(t), 1394, y(t), '#111', 3.5, 'y-tick-g-' + t);
    tx(g, 1374, y(t), String(t), 30, 'y-tick-label-g-' + t, { cls: 'end' });
  });
})();

/* ---------- draw H ---------- */
(function () {
  const g = panel('panel-h');
  const y = function (v) { return 2707 - v * 52.4; };
  const x = function (i) { return 216.6 + i * 108.45; };
  const labelShift = [-1, -4, 5.5];
  hCategories.forEach(function (c, i) {
    const n = c.toLowerCase();
    ln(g, x(i), y(hMeans[i]), x(i), y(hUpper[i]), hErrColors[i], 2.5, 'error-bar-' + n);
    ln(g, x(i) - 18, y(hUpper[i]), x(i) + 18, y(hUpper[i]), hErrColors[i], 2.5, 'error-cap-' + n);
    rc(g, x(i) - 36, y(hMeans[i]), 72.5, y(0) - y(hMeans[i]), hColors[i], 'bar-' + n);
    ln(g, x(i), y(0), x(i), 2724, '#111', 4, 'x-tick-' + n);
    tx(g, x(i) + labelShift[i], 2748, c, 32, 'x-label-' + n);
  });
  ln(g, 145, y(8) - 2, 145, y(0) + 2, '#111', 4, 'y-axis-h');
  ln(g, 128, y(0), 508, y(0), '#111', 4, 'x-axis-h');
  hTicks.forEach(function (t) {
    ln(g, 128, y(t), 145, y(t), '#111', 4, 'y-tick-h-' + t);
    tx(g, 122.7, y(t), String(t), 30, 'y-tick-label-h-' + t, { cls: 'end' });
  });
})();

/* ---------- draw I ---------- */
(function () {
  const g = panel('panel-i');
  const x = function (t) { return 644.3 + t * 2.655; };
  const y = function (s) { return 2741 - s * 519; };
  iYTicks.forEach(function (t) {
    ln(g, 630, y(+t), 644, y(+t), '#222', 2, 'y-tick-i-' + t);
    tx(g, 606, y(+t), t, 30, 'y-tick-label-i-' + t, { rot: true });
  });
  iXTicks.forEach(function (t) {
    ln(g, x(t), 2761.8, x(t), 2775.7, '#222', 2, 'x-tick-i-' + t);
    tx(g, x(t), 2800, String(t), 32, 'x-tick-label-i-' + t);
  });
  function dotted(ts, ss, end, color, name) {
    mk(g, 'path', { d: stepPath(ts, ss, end, x, y), fill: 'none', stroke: color, 'stroke-width': 2.2, 'stroke-dasharray': '2.2 5', opacity: 0.75 }, name);
  }
  dotted(iLowUpT, iLowUpS, iLowUpEnd, '#3333ff', 'ci-upper-low');
  dotted(iLowDnT, iLowDnS, iLowDnEnd, '#3333ff', 'ci-lower-low');
  dotted(iHighUpT, iHighUpS, iHighUpEnd, '#ff3333', 'ci-upper-high');
  dotted(iHighDnT, iHighDnS, iHighDnEnd, '#ff3333', 'ci-lower-high');
  mk(g, 'path', { d: stepPath(iLowT, iLowS, iLowEnd, x, y), fill: 'none', stroke: '#1a1aff', 'stroke-width': 4 }, 'survival-curve-low');
  iLowCensor.forEach(function (t) {
    const v = y(stepValue(iLowT, iLowS, t));
    ln(g, x(t), v - 9, x(t), v + 9, '#1a1aff', 2.5, 'censor-low');
  });
  mk(g, 'path', { d: stepPath(iHighT, iHighS, iHighEnd, x, y), fill: 'none', stroke: '#ff1a1a', 'stroke-width': 4 }, 'survival-curve-high');
  iHighCensor.forEach(function (t) {
    const v = y(stepValue(iHighT, iHighS, t));
    ln(g, x(t), v - 9, x(t), v + 9, '#ff1a1a', 2.5, 'censor-high');
  });
})();

/* ---------- draw J ---------- */
(function () {
  const g = panel('panel-j');
  const x = function (t) { return 1381.4 + t * 2.6; };
  const y = function (s) { return 2682.7 - s * 464.7; };
  jYTicks.forEach(function (t) {
    ln(g, 1348.6, y(+t), 1360, y(+t), '#888', 2, 'y-tick-j-' + t);
    tx(g, 1326, y(+t), t, 30, 'y-tick-label-j-' + t, { rot: true });
  });
  jXTicks.forEach(function (t) {
    ln(g, x(t), 2700.6, x(t), 2712, '#888', 2, 'x-tick-j-' + t);
    tx(g, x(t), 2733, String(t), 32, 'x-tick-label-j-' + t);
  });
  mk(g, 'path', { d: stepPath(jLowT, jLowS, jLowEnd, x, y), fill: 'none', stroke: '#444', 'stroke-width': 2 }, 'survival-curve-low-j');
  jLowCensor.forEach(function (t) {
    const v = y(stepValue(jLowT, jLowS, t));
    ln(g, x(t), v - 6, x(t), v + 6, '#333', 2, 'censor-low-j');
    ln(g, x(t) - 3, v, x(t) + 3, v, '#333', 2, 'censor-low-j-h');
  });
  mk(g, 'path', { d: stepPath(jHighT, jHighS, jHighEnd, x, y), fill: 'none', stroke: '#e8606f', 'stroke-width': 2 }, 'survival-curve-high-j');
  jHighCensor.forEach(function (t) {
    const v = y(stepValue(jHighT, jHighS, t));
    ln(g, x(t), v - 6, x(t), v + 6, '#e84050', 2, 'censor-high-j');
    ln(g, x(t) - 3, v, x(t) + 3, v, '#e84050', 2, 'censor-high-j-h');
  });
  jRiskTimes.forEach(function (t, i) {
    const cx = i === 0 ? 1376 : x(t) - 3;
    tx(g, cx, 2829, jRiskLow[i], 32, 'risk-low-' + t);
    tx(g, cx, 2869.7, jRiskHigh[i], 32, 'risk-high-' + t, { cls: 'red' });
  });
})();
</script>
</body>
</html>
